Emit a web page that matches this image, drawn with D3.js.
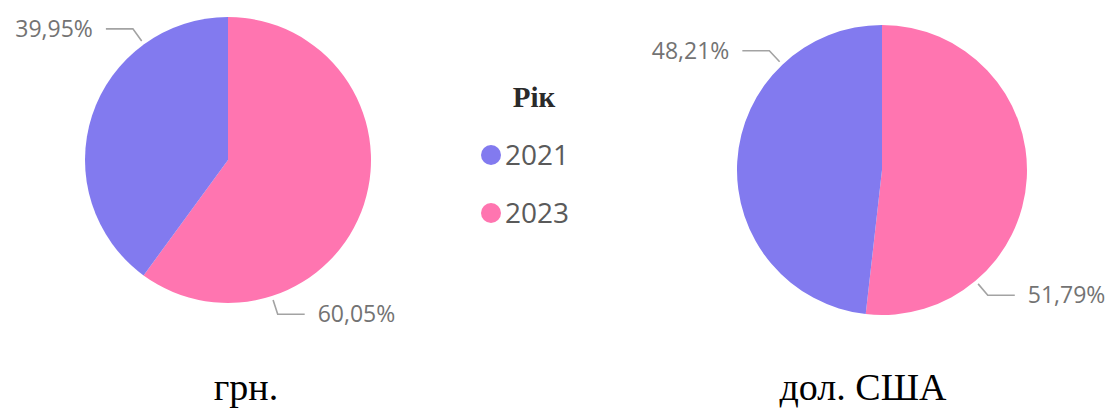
<!DOCTYPE html>
<html>
<head>
<meta charset="utf-8">
<script src="https://cdn.jsdelivr.net/npm/d3@7"></script>
<style>
  html, body { margin: 0; padding: 0; background: #fff; }
  svg { display: block; }
</style>
</head>
<body>
<svg id="chart" width="1112" height="410"></svg>
<script>
// Share of each year per currency
const years = ["2021", "2023"];
const currencies = ["грн.", "дол. США"];
const share2021 = [39.95, 48.21];
const share2023 = [60.05, 51.79];
const legendTitle = "Рік";

const colors = d3.scaleOrdinal().domain(years).range(["#827AEF", "#FF75B0"]);

const svg = d3.select("#chart");

const pies = [
  { cx: 228, cy: 160, r: 143, capX: 246 },
  { cx: 882, cy: 170, r: 145, capX: 863 }
];

const pie = d3.pie().sort(null).value(d => d.value);
const fmt = v => d3.format(".2f")(v).replace(".", ",") + "%";

currencies.forEach((cur, i) => {
  const p = pies[i];
  // 2023 first so it runs clockwise from 12 o'clock
  const data = [
    { year: "2023", value: share2023[i] },
    { year: "2021", value: share2021[i] }
  ];
  const arcs = pie(data);
  const arc = d3.arc().innerRadius(0).outerRadius(p.r);
  const g = svg.append("g").attr("transform", `translate(${p.cx},${p.cy})`);

  g.selectAll("path.slice")
    .data(arcs)
    .join("path")
    .attr("class", "slice")
    .attr("d", arc)
    .attr("fill", d => colors(d.data.year));

  // leader lines and value labels
  const pt = (a, rr) => [rr * Math.sin(a), -rr * Math.cos(a)];
  arcs.forEach(d => {
    const a = d.startAngle + 0.75 * (d.endAngle - d.startAngle);
    const left = a > Math.PI;
    const p0 = pt(a, p.r + 4);
    const p1 = pt(a, p.r + 19);
    const p2 = [p1[0] + (left ? -27 : 27), p1[1]];
    g.append("polyline")
      .attr("points", [p0, p1, p2].map(q => q.join(",")).join(" "))
      .attr("fill", "none")
      .attr("stroke", "#a3a3a3")
      .attr("stroke-width", 1.6);
    g.append("text")
      .attr("x", p2[0] + (left ? -13 : 13))
      .attr("y", p2[1])
      .attr("dy", "0.35em")
      .attr("text-anchor", left ? "end" : "start")
      .attr("font-family", "'Open Sans', 'Noto Sans', sans-serif")
      .attr("font-size", 23)
      .attr("fill", "#737373")
      .text(fmt(d.data.value));
  });

  // currency caption
  svg.append("text")
    .attr("x", p.capX)
    .attr("y", 400)
    .attr("text-anchor", "middle")
    .attr("font-family", "'Liberation Serif', 'Times New Roman', serif")
    .attr("font-size", 38)
    .attr("fill", "#000")
    .text(cur);
});

// legend
const legend = svg.append("g");
legend.append("text")
  .attr("x", 534)
  .attr("y", 97)
  .attr("dy", "0.35em")
  .attr("text-anchor", "middle")
  .attr("font-family", "'Liberation Serif', serif")
  .attr("font-weight", "bold")
  .attr("font-size", 29)
  .attr("fill", "#2a2a2a")
  .text(legendTitle);

const items = legend.selectAll("g.item")
  .data(years)
  .join("g")
  .attr("class", "item")
  .attr("transform", (d, i) => `translate(491,${155 + i * 58})`);
items.append("circle").attr("r", 10).attr("fill", d => colors(d));
items.append("text")
  .attr("x", 14)
  .attr("dy", "0.36em")
  .attr("font-family", "'Open Sans', 'Noto Sans', sans-serif")
  .attr("font-size", 28)
  .attr("fill", "#5a5a5a")
  .text(d => d);
</script>
</body>
</html>
